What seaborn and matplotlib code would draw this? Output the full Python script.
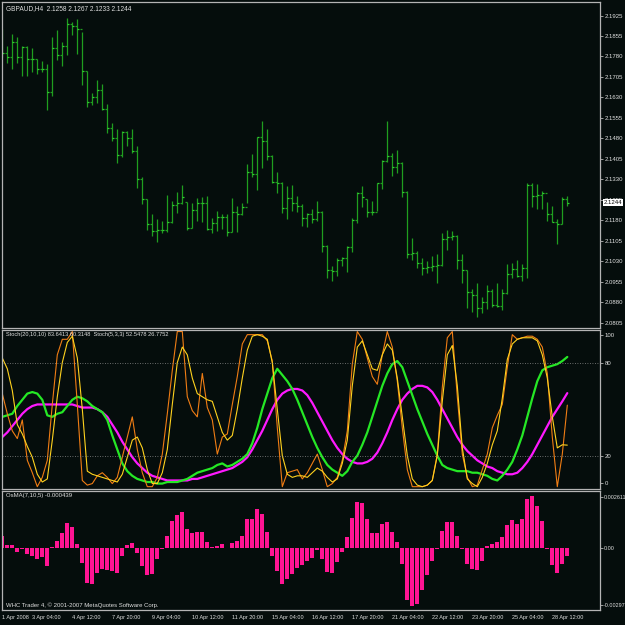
import matplotlib
matplotlib.use("Agg")
import matplotlib.pyplot as plt
import numpy as np
import pandas as pd
import seaborn as sns

# Tema escuro no estilo MetaTrader
sns.set_theme(style="dark")
plt.rcParams['font.family'] = ['Liberation Sans', 'DejaVu Sans']

BG = '#050d0c'
FRAME = '#b4b4b4'
TXT = '#e0e0e0'
BAR_GREEN = '#1f9e1f'

# ---------------- dados: GBPAUD H4 ----------------
highs = [2.1879, 2.1817, 2.1860, 2.1849, 2.1817, 2.1817, 2.1810, 2.1769, 2.1761, 2.1750,
         2.1849, 2.1875, 2.1832, 2.1919, 2.1905, 2.1916, 2.1868, 2.1725, 2.1645, 2.1692,
         2.1677, 2.1604, 2.1535, 2.1513, 2.1505, 2.1505, 2.1513, 2.1451, 2.1337, 2.1257,
         2.1201, 2.1184, 2.1176, 2.1272, 2.1249, 2.1283, 2.1308, 2.1246, 2.1242, 2.1260,
         2.1264, 2.1268, 2.1187, 2.1212, 2.1201, 2.1201, 2.1260, 2.1231, 2.1242, 2.1384,
         2.1421, 2.1484, 2.1542, 2.1513, 2.1418, 2.1356, 2.1319, 2.1304, 2.1308, 2.1268,
         2.1238, 2.1205, 2.1220, 2.1249, 2.1212, 2.1089, 2.1011, 2.1040, 2.1044, 2.1085,
         2.1187, 2.1283, 2.1304, 2.1257, 2.1249, 2.1315, 2.1399, 2.1542, 2.1425, 2.1436,
         2.1392, 2.1286, 2.1114, 2.1066, 2.1040, 2.1029, 2.1048, 2.1055, 2.1132, 2.1143,
         2.1139, 2.1125, 2.1055, 2.0997, 2.0927, 2.0949, 2.0898, 2.0942, 2.0927, 2.0949,
         2.0927, 2.1018, 2.1022, 2.1033, 2.1018, 2.1315, 2.1315, 2.1312, 2.1286, 2.1246,
         2.1231, 2.1184, 2.1264, 2.1267]
lows = [2.1776, 2.1754, 2.1733, 2.1754, 2.1707, 2.1707, 2.1722, 2.1714, 2.1722, 2.1582,
        2.1634, 2.1765, 2.1743, 2.1784, 2.1857, 2.1787, 2.1674, 2.1593, 2.1601, 2.1608,
        2.1582, 2.1498, 2.1469, 2.1388, 2.1410, 2.1451, 2.1425, 2.1297, 2.1238, 2.1143,
        2.1121, 2.1100, 2.1132, 2.1136, 2.1169, 2.1205, 2.1238, 2.1143, 2.1150, 2.1176,
        2.1173, 2.1143, 2.1132, 2.1139, 2.1147, 2.1121, 2.1136, 2.1136, 2.1198, 2.1242,
        2.1337, 2.1290, 2.1370, 2.1399, 2.1315, 2.1279, 2.1205, 2.1184, 2.1212, 2.1209,
        2.1158, 2.1154, 2.1169, 2.1176, 2.1063, 2.0967, 2.0956, 2.0975, 2.1011, 2.0990,
        2.1063, 2.1169, 2.1227, 2.1191, 2.1198, 2.1212, 2.1294, 2.1392, 2.1341, 2.1352,
        2.1264, 2.1040, 2.1033, 2.1004, 2.0979, 2.0986, 2.0993, 2.0949, 2.1011, 2.1070,
        2.1107, 2.1000, 2.0949, 2.0858, 2.0843, 2.0824, 2.0839, 2.0854, 2.0862, 2.0862,
        2.0850, 2.0909, 2.0967, 2.0971, 2.0956, 2.0967, 2.1227, 2.1220, 2.1220, 2.1176,
        2.1173, 2.1092, 2.1165, 2.1233]
closes = [2.1791, 2.1776, 2.1832, 2.1776, 2.1813, 2.1769, 2.1769, 2.1733, 2.1733, 2.1649,
          2.1810, 2.1784, 2.1817, 2.1897, 2.1890, 2.1879, 2.1725, 2.1612, 2.1630, 2.1656,
          2.1586, 2.1517, 2.1480, 2.1418, 2.1502, 2.1480, 2.1432, 2.1330, 2.1257, 2.1165,
          2.1139, 2.1143, 2.1143, 2.1173, 2.1235, 2.1242, 2.1264, 2.1150, 2.1216, 2.1242,
          2.1242, 2.1147, 2.1169, 2.1191, 2.1191, 2.1136, 2.1209, 2.1201, 2.1227, 2.1356,
          2.1348, 2.1484, 2.1469, 2.1414, 2.1319, 2.1315, 2.1224, 2.1260, 2.1242, 2.1231,
          2.1187, 2.1201, 2.1184, 2.1209, 2.1085, 2.0997, 2.0993, 2.1033, 2.1040, 2.1081,
          2.1180, 2.1279, 2.1264, 2.1209, 2.1209, 2.1315, 2.1395, 2.1414, 2.1374, 2.1388,
          2.1283, 2.1055, 2.1059, 2.1022, 2.1004, 2.1007, 2.1011, 2.1015, 2.1111, 2.1117,
          2.1121, 2.1033, 2.0997, 2.0917, 2.0906, 2.0858, 2.0880, 2.0920, 2.0869, 2.0865,
          2.0913, 2.0982, 2.1000, 2.0975, 2.1004, 2.1308, 2.1268, 2.1272, 2.1279, 2.1201,
          2.1173, 2.1165, 2.1257, 2.1244]
opens = [2.1839, 2.1791, 2.1776, 2.1832, 2.1776, 2.1813, 2.1769, 2.1769, 2.1733, 2.1733,
         2.1649, 2.1810, 2.1784, 2.1817, 2.1897, 2.1890, 2.1879, 2.1725, 2.1612, 2.1630,
         2.1656, 2.1586, 2.1517, 2.1480, 2.1418, 2.1502, 2.1480, 2.1432, 2.1330, 2.1257,
         2.1165, 2.1139, 2.1143, 2.1143, 2.1173, 2.1235, 2.1242, 2.1246, 2.1150, 2.1216,
         2.1242, 2.1242, 2.1147, 2.1169, 2.1191, 2.1191, 2.1136, 2.1209, 2.1201, 2.1227,
         2.1356, 2.1348, 2.1484, 2.1469, 2.1414, 2.1319, 2.1315, 2.1224, 2.1260, 2.1242,
         2.1231, 2.1187, 2.1201, 2.1184, 2.1209, 2.1085, 2.0997, 2.0993, 2.1033, 2.1040,
         2.1081, 2.1180, 2.1279, 2.1257, 2.1209, 2.1209, 2.1315, 2.1395, 2.1414, 2.1374,
         2.1388, 2.1283, 2.1055, 2.1059, 2.1022, 2.1004, 2.1007, 2.1011, 2.1015, 2.1111,
         2.1117, 2.1121, 2.1033, 2.0997, 2.0917, 2.0906, 2.0858, 2.0880, 2.0920, 2.0869,
         2.0865, 2.0913, 2.0982, 2.1000, 2.0975, 2.1004, 2.1308, 2.1268, 2.1272, 2.1279,
         2.1201, 2.1173, 2.1165, 2.1258]

# Stoch(20,10,10): principal (verde) e sinal (magenta)
stoch20_main = [45, 46, 47, 52, 56, 60, 61, 60, 56, 46, 45, 47, 48, 52, 56, 58, 57, 55, 52, 50,
                48, 43, 33, 24, 15, 10, 7, 5, 4, 3, 3, 2, 2, 3, 3, 3, 4, 5, 7, 9,
                10, 11, 12, 14, 15, 13, 14, 16, 18, 21, 28, 38, 50, 60, 70, 76, 72, 68, 63, 56,
                48, 40, 32, 25, 19, 14, 11, 9, 7, 10, 16, 20, 27, 35, 45, 55, 65, 73, 79, 81,
                77, 68, 59, 50, 42, 34, 27, 20, 14, 12, 11, 10, 10, 10, 9, 9, 8, 7, 5, 4,
                7, 11, 16, 24, 33, 45, 57, 68, 75, 77, 78, 79, 81, 83.64]
stoch20_signal = [32, 35, 39, 43, 47, 50, 52, 53, 53, 53, 53, 53, 53, 53, 53, 52, 51, 51, 51, 50,
                  48, 45, 40, 35, 29, 24, 19, 15, 12, 9, 7, 6, 5, 4, 4, 4, 4, 4, 5, 5,
                  6, 7, 8, 9, 10, 11, 12, 14, 16, 19, 24, 30, 36, 43, 50, 56, 60, 62, 63, 63,
                  62, 59, 54, 48, 42, 36, 30, 25, 21, 18, 16, 15, 15, 16, 18, 22, 28, 35, 43, 50,
                  56, 60, 63, 65, 65, 64, 61, 56, 50, 44, 38, 32, 27, 23, 20, 17, 15, 13, 12, 10,
                  9, 8, 8, 9, 12, 16, 21, 27, 33, 39, 45, 50, 55, 60.31]
# Stoch(5,3,3): principal (laranja) e sinal (amarelo)
stoch5_main = [60, 47, 36, 31, 43, 17, 9, 0, 6, 17, 53, 85, 95, 95, 100, 53, 4, 1, 2, 7,
               9, 6, 2, 6, 19, 32, 45, 24, 9, 0, 0, 6, 21, 47, 75, 100, 100, 58, 49, 45,
               73, 51, 43, 21, 32, 34, 53, 71, 92, 98, 98, 98, 98, 94, 81, 38, 0, 9, 10, 11,
               5, 9, 15, 21, 11, 0, 2, 6, 17, 36, 79, 100, 95, 83, 71, 66, 85, 100, 90, 68,
               38, 11, 0, 0, 0, 1, 4, 21, 64, 96, 100, 58, 21, 6, 0, 1, 11, 21, 38, 46,
               53, 77, 98, 95, 96, 97, 97, 95, 90, 73, 32, 0, 21, 52.55]
stoch5_signal = [83, 76, 62, 40, 34, 26, 19, 8, 3, 5, 30, 58, 80, 93, 97, 83, 50, 10, 8, 7,
                 6, 5, 4, 3, 8, 19, 30, 32, 25, 11, 2, 2, 9, 24, 53, 80, 90, 85, 70, 60,
                 58, 56, 55, 45, 35, 30, 33, 50, 70, 88, 97, 98, 97, 95, 80, 50, 20, 8, 6, 7,
                 7, 6, 9, 12, 10, 6, 3, 5, 15, 30, 65, 90, 94, 85, 76, 75, 85, 92, 88, 70,
                 45, 20, 5, 1, 0, 1, 4, 20, 55, 85, 91, 65, 25, 5, 2, 0, 6, 15, 27, 36,
                 57, 82, 92, 95, 96, 96, 96, 94, 85, 70, 45, 25, 27, 26.78]

# OsMA(7,10,5)
osma = [0.00059, 0.00013, 0.00013, -0.00020, -0.00008, -0.00032, -0.00042, -0.00059, -0.00049, -0.00093,
        0.00005, 0.00034, 0.00072, 0.00123, 0.00103, 0.00019, -0.00076, -0.00177, -0.00184, -0.00126,
        -0.00109, -0.00113, -0.00116, -0.00126, -0.00042, 0.00013, 0.00025, -0.00029, -0.00093, -0.00138,
        -0.00133, -0.00059, -0.00008, 0.00061, 0.00135, 0.00165, 0.00179, 0.00093, 0.00076, 0.00081,
        0.00081, 0.00027, 0.00002, 0.00008, 0.00019, -0.00003, 0.00022, 0.00035, 0.00061, 0.00143,
        0.00143, 0.00195, 0.00170, 0.00077, -0.00042, -0.00118, -0.00185, -0.00160, -0.00133, -0.00101,
        -0.00088, -0.00066, -0.00054, -0.00012, -0.00059, -0.00121, -0.00126, -0.00071, -0.00020, 0.00052,
        0.00148, 0.00232, 0.00227, 0.00143, 0.00072, 0.00072, 0.00118, 0.00131, 0.00081, 0.00027,
        -0.00083, -0.00264, -0.00297, -0.00287, -0.00214, -0.00138, -0.00066, -0.00008, 0.00086, 0.00128,
        0.00131, 0.00061, -0.00008, -0.00083, -0.00108, -0.00113, -0.00066, 0.00008, 0.00019, 0.00027,
        0.00056, 0.00115, 0.00140, 0.00118, 0.00145, 0.00246, 0.002611, 0.00212, 0.00135, -0.00007,
        -0.00088, -0.00130, -0.00083, -0.000439]

price_ticks = [2.1925, 2.1855, 2.1780, 2.1705, 2.1630, 2.1555, 2.1480, 2.1405,
               2.1330, 2.1255, 2.1180, 2.1105, 2.1030, 2.0955, 2.0880, 2.0805]
date_pos = [0, 6, 14, 22, 30, 38, 46, 54, 62, 70, 78, 86, 94, 102, 110]
date_labels = ['1 Apr 2008', '3 Apr 04:00', '4 Apr 12:00', '7 Apr 20:00', '9 Apr 04:00',
               '10 Apr 12:00', '11 Apr 20:00', '15 Apr 04:00', '16 Apr 12:00', '17 Apr 20:00',
               '21 Apr 04:00', '22 Apr 12:00', '23 Apr 20:00', '25 Apr 04:00', '28 Apr 12:00']

bars = np.arange(len(closes))
df = pd.DataFrame({'bar': bars, 'open': opens, 'high': highs, 'low': lows, 'close': closes,
                   's20': stoch20_main, 's20sig': stoch20_signal,
                   's5': stoch5_main, 's5sig': stoch5_signal, 'osma': osma})

# ---------------- figura ----------------
W = H = 625
fig = plt.figure(figsize=(6.25, 6.25), dpi=100, facecolor=BG)


def px_axes(x0, y0, x1, y1):
    # cria eixos a partir de coordenadas em pixels (origem no topo)
    return fig.add_axes([x0 / W, 1 - y1 / H, (x1 - x0) / W, (y1 - y0) / H])


ax1 = px_axes(2, 2, 600, 328)
ax2 = px_axes(2, 330, 600, 489)
ax3 = px_axes(2, 491, 600, 610)

XMIN, XMAX = -0.06, 119.54
FS = 4.3

for ax in (ax1, ax2, ax3):
    ax.set_facecolor(BG)
    ax.set_xlim(XMIN, XMAX)
    for s in ax.spines.values():
        s.set_color(FRAME)
        s.set_linewidth(0.9)
    ax.yaxis.tick_right()
    ax.tick_params(axis='y', colors=FRAME, labelcolor=TXT, labelsize=FS, length=2,
                   width=0.6, pad=1.5, direction='out')
    ax.grid(False)

# --- painel de preço (barras OHLC) ---
ax1.vlines(df['bar'], df['low'], df['high'], color=BAR_GREEN, lw=0.9)
ax1.hlines(df['open'], df['bar'] - 0.4, df['bar'], color=BAR_GREEN, lw=0.9)
ax1.hlines(df['close'], df['bar'], df['bar'] + 0.4, color='#2fcf2f', lw=0.9)
ax1.set_ylim(2.0785, 2.1978)
ax1.set_yticks(price_ticks)
ax1.set_yticklabels([f'{v:.4f}' for v in price_ticks])
ax1.set_xticks([])
ax1.text(0.006, 0.992, 'GBPAUD,H4  2.1258 2.1267 2.1233 2.1244', transform=ax1.transAxes,
         color=TXT, fontsize=4.7, va='top', ha='left')
ax1.annotate('2.1244', xy=(1.006, 2.1244), xycoords=('axes fraction', 'data'),
             color='black', fontsize=FS, va='center', ha='left', annotation_clip=False,
             bbox=dict(boxstyle='square,pad=0.12', fc='white', ec='none'))

# --- painel estocástico ---
sns.lineplot(data=df, x='bar', y='s20sig', ax=ax2, color='#ff19ff', lw=1.6)
sns.lineplot(data=df, x='bar', y='s20', ax=ax2, color='#25e825', lw=1.6)
sns.lineplot(data=df, x='bar', y='s5', ax=ax2, color='#f07d14', lw=0.8)
sns.lineplot(data=df, x='bar', y='s5sig', ax=ax2, color='#ffd21e', lw=0.8)
for lvl in (20, 80):
    ax2.axhline(lvl, color='#8a8a8a', lw=0.6, ls=(0, (1, 2)))
ax2.set_ylim(-1.5, 101)
ax2.set_xlim(XMIN, XMAX)
ax2.set_yticks([97.5, 80, 20, 2.5])
ax2.set_yticklabels(['100', '80', '20', '0'])
ax2.set_xticks([])
ax2.set_xlabel('')
ax2.set_ylabel('')
ax2.text(0.006, 0.985, 'Stoch(20,10,10) 83.6413 60.3148  Stoch(5,3,3) 52.5478 26.7752',
         transform=ax2.transAxes, color=TXT, fontsize=4.1, va='top', ha='left')

# --- painel OsMA ---
sns.barplot(data=df, x='bar', y='osma', ax=ax3, native_scale=True, color='#ff1493',
            saturation=1, width=0.8, errorbar=None, linewidth=0, edgecolor='none')
ax3.set_ylim(-0.00315, 0.00286)
ax3.set_xlim(XMIN, XMAX)
ax3.set_yticks([0.00258, 0.0, -0.00292])
ax3.set_yticklabels(['0.002611', '0.00', '-0.00297'])
ax3.tick_params(axis='y', labelsize=3.9, pad=1.0)
ax3.set_xlabel('')
ax3.set_ylabel('')
ax3.set_xticks(date_pos)
ax3.set_xticklabels(date_labels)
ax3.tick_params(axis='x', colors=FRAME, labelcolor=TXT, labelsize=4.0, length=2,
                width=0.6, pad=1.5)
for lab in ax3.get_xticklabels():
    lab.set_horizontalalignment('left')
ax3.text(0.006, 0.985, 'OsMA(7,10,5) -0.000439', transform=ax3.transAxes,
         color=TXT, fontsize=FS, va='top', ha='left')
ax3.text(0.006, 0.02, 'WHC Trader 4, © 2001-2007 MetaQuotes Software Corp.',
         transform=ax3.transAxes, color=TXT, fontsize=FS, va='bottom', ha='left')

fig.savefig('out.png', dpi=100, facecolor=BG)
